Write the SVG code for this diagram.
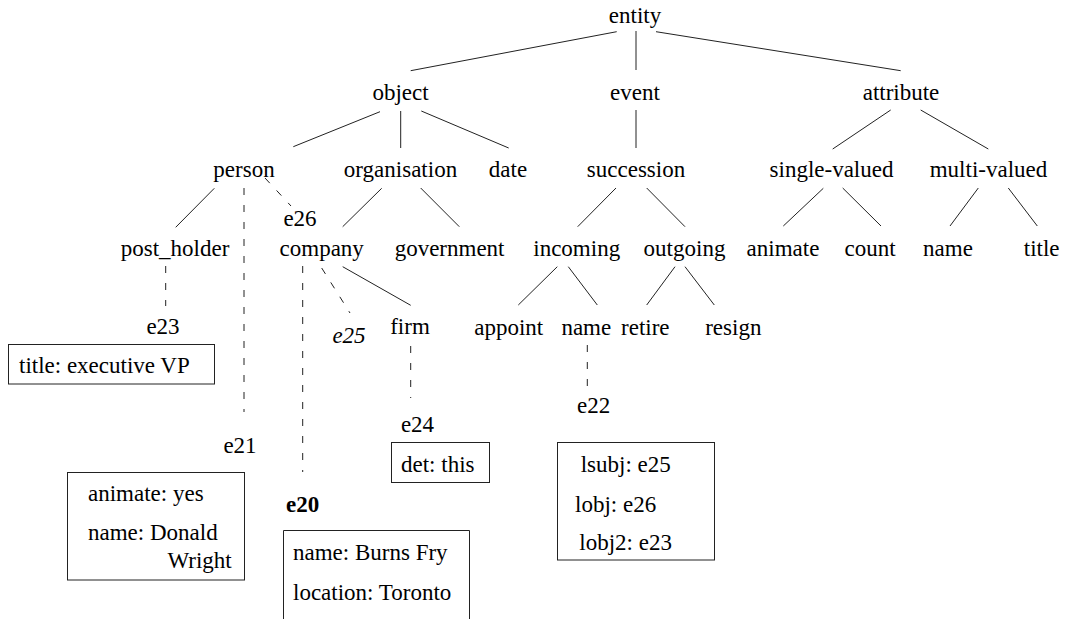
<svg xmlns="http://www.w3.org/2000/svg" width="1069" height="619" viewBox="0 0 1069 619">
<style>
  text { font-family: 'Liberation Serif', 'Times New Roman', Times, 'DejaVu Serif', serif; font-size: 23px; fill: #000; }
  .c { text-anchor: middle; }
  .e { text-anchor: end; }
  .it { font-style: italic; }
  .b { font-weight: bold; }
  line { stroke: #222; stroke-width: 1; }
  .d { stroke-dasharray: 7 10; }
  .box { fill: #fff; stroke: #222; stroke-width: 1; }
</style>
<rect width="1069" height="619" fill="#fff"/>
<g id="connectors">
  <line x1="616.7" y1="31.7" x2="410.7" y2="70.7"/>
  <line x1="636" y1="31" x2="636" y2="70"/>
  <line x1="656" y1="31.7" x2="900.7" y2="70.7"/>
  <line x1="380" y1="111.7" x2="293.3" y2="146.7"/>
  <line x1="400.7" y1="111" x2="400.7" y2="148"/>
  <line x1="421.3" y1="111" x2="508.7" y2="148"/>
  <line x1="636" y1="110" x2="636" y2="148"/>
  <line x1="890.7" y1="110" x2="832.7" y2="149"/>
  <line x1="920.7" y1="110" x2="988.3" y2="149"/>
  <line x1="214.3" y1="188.3" x2="175.7" y2="227.3"/>
  <line x1="381.7" y1="188.3" x2="342.7" y2="226.7"/>
  <line x1="420.7" y1="188" x2="459.3" y2="226.7"/>
  <line x1="616" y1="188" x2="577.7" y2="226.7"/>
  <line x1="646.7" y1="188" x2="685" y2="226.7"/>
  <line x1="823.3" y1="188.3" x2="783.3" y2="226"/>
  <line x1="842.7" y1="188" x2="881" y2="226"/>
  <line x1="978.3" y1="188" x2="950" y2="226"/>
  <line x1="1008.3" y1="188" x2="1037.3" y2="226"/>
  <line x1="342.7" y1="266.7" x2="410.7" y2="305.3"/>
  <line x1="557.3" y1="266.7" x2="518.3" y2="305"/>
  <line x1="568.3" y1="266.7" x2="597.3" y2="305"/>
  <line x1="675" y1="266.7" x2="646.7" y2="305"/>
  <line x1="685" y1="266.7" x2="714.3" y2="305"/>
  <line class="d" x1="265" y1="178" x2="291" y2="206"/>
  <line class="d" x1="244" y1="188" x2="244" y2="412"/>
  <line class="d" x1="165.7" y1="266" x2="165.7" y2="306"/>
  <line class="d" x1="302.7" y1="266" x2="302.7" y2="472"/>
  <line class="d" x1="321.7" y1="268" x2="350" y2="313"/>
  <line class="d" x1="410.7" y1="346" x2="410.7" y2="398"/>
  <line class="d" x1="587.3" y1="345" x2="587.3" y2="393"/>
</g>
<g font-family="Liberation Serif, Times New Roman, serif">
<g id="n-entity"><text class="c" x="635" y="23">entity</text></g>
<g id="n-object"><text class="c" x="400.5" y="100">object</text></g>
<g id="n-event"><text class="c" x="635" y="100">event</text></g>
<g id="n-attribute"><text class="c" x="901" y="100">attribute</text></g>
<g id="n-person"><text class="c" x="244" y="177">person</text></g>
<g id="n-organisation"><text class="c" x="400.5" y="177">organisation</text></g>
<g id="n-date"><text class="c" x="508" y="177">date</text></g>
<g id="n-succession"><text class="c" x="636" y="177">succession</text></g>
<g id="n-single-valued"><text class="c" x="831.5" y="177">single-valued</text></g>
<g id="n-multi-valued"><text class="c" x="988.5" y="177">multi-valued</text></g>
<g id="n-e26"><text class="c" x="300" y="226">e26</text></g>
<g id="n-post_holder"><text class="c" x="175" y="256">post_holder</text></g>
<g id="n-company"><text class="c" x="321.7" y="256">company</text></g>
<g id="n-government"><text class="c" x="449.6" y="256">government</text></g>
<g id="n-incoming"><text class="c" x="576.7" y="256">incoming</text></g>
<g id="n-outgoing"><text class="c" x="684.5" y="256">outgoing</text></g>
<g id="n-animate"><text class="c" x="783" y="256">animate</text></g>
<g id="n-count"><text class="c" x="870" y="256">count</text></g>
<g id="n-name-attr"><text class="c" x="948" y="256">name</text></g>
<g id="n-title"><text class="c" x="1041.7" y="256">title</text></g>
<g id="n-e25"><text class="c it" x="349" y="343">e25</text></g>
<g id="n-firm"><text class="c" x="410" y="334">firm</text></g>
<g id="n-appoint"><text class="c" x="508.7" y="335">appoint</text></g>
<g id="n-name-ev"><text class="c" x="586.3" y="335">name</text></g>
<g id="n-retire"><text class="c" x="645.3" y="335">retire</text></g>
<g id="n-resign"><text class="c" x="733.3" y="335">resign</text></g>
<g id="n-e23">
  <text class="c" x="163" y="334">e23</text>
  <rect class="box" x="8.5" y="344.5" width="206" height="39.5"/>
  <text x="19" y="373">title: executive VP</text>
</g>
<g id="n-e24">
  <text class="c" x="417.5" y="432">e24</text>
  <rect class="box" x="391.5" y="442.5" width="98" height="40"/>
  <text x="401" y="471.7">det: this</text>
</g>
<g id="n-e22">
  <text class="c" x="593.7" y="413">e22</text>
  <rect class="box" x="557.5" y="442.5" width="157" height="117.5"/>
  <text x="580.7" y="471.7">lsubj: e25</text>
  <text x="575" y="511.7">lobj: e26</text>
  <text x="579.3" y="550">lobj2: e23</text>
</g>
<g id="n-e21">
  <text class="c" x="240" y="453">e21</text>
  <rect class="box" x="67.5" y="472.5" width="177" height="107.5"/>
  <text x="88" y="501">animate: yes</text>
  <text x="88" y="540">name: Donald</text>
  <text class="e" x="231.7" y="568">Wright</text>
</g>
<g id="n-e20">
  <text class="b" x="286" y="512">e20</text>
  <path class="box" d="M283.5,625 V530.5 H469.5 V625"/>
  <text x="293" y="560">name: Burns Fry</text>
  <text x="293" y="600">location: Toronto</text>
</g>
</g>
</svg>
